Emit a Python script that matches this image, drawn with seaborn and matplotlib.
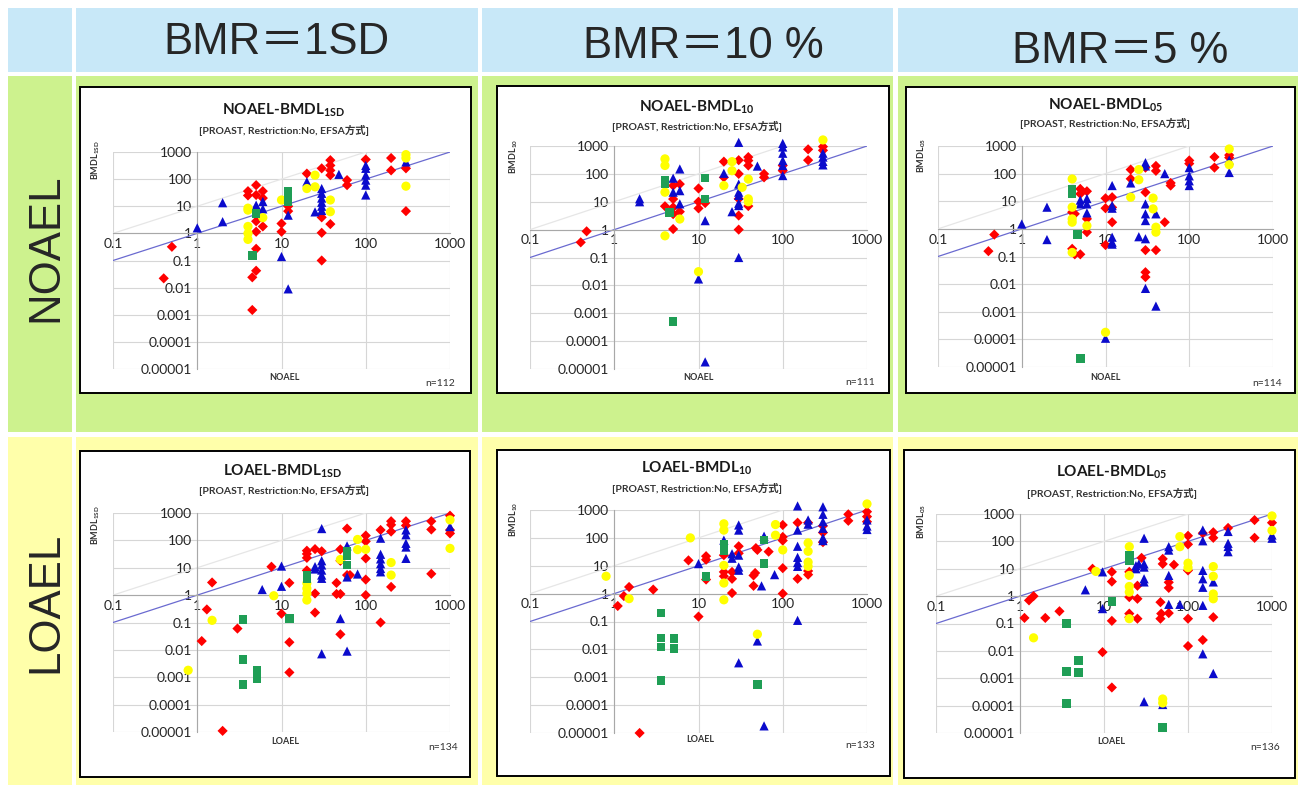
import matplotlib
matplotlib.use("Agg")
import matplotlib.pyplot as plt
from matplotlib.patches import Rectangle
from matplotlib.ticker import NullLocator
import pandas as pd
import seaborn as sns

sns.set_style("white")
plt.rcParams["font.family"] = ["Lato", "Noto Sans CJK JP", "DejaVu Sans"]
plt.rcParams["mathtext.fontset"] = "custom"
plt.rcParams["mathtext.bf"] = "Lato:bold"
plt.rcParams["mathtext.rm"] = "Lato"

# ---- text ----
col_headers = ["BMR＝1SD", "BMR＝10 %", "BMR＝5 %"]
row_headers = ["NOAEL", "LOAEL"]
sub_keys = ["1SD", "10", "05"]
n_labels = [["n=112", "n=111", "n=114"], ["n=134", "n=133", "n=136"]]
subtitle = "[PROAST, Restriction:No, EFSA方式]"
x_ticks = [0.1, 1, 10, 100, 1000]
x_tick_labels = ["0.1", "1", "10", "100", "1000"]
y_ticks = [1e-5, 1e-4, 1e-3, 1e-2, 0.1, 1, 10, 100, 1000]
y_tick_labels = ["0.00001", "0.0001", "0.001", "0.01", "0.1", "1", "10", "100", "1000"]
kinds = ["red", "blue", "yellow", "green"]

# ---- data (x = NOAEL/LOAEL, y = BMDL) ----
noael_1sd_red = [(0.5, 0.32), (0.4, 0.022), (4, 36), (5, 60), (5, 26), (6, 36), (6, 20), (4, 25),
                 (5, 2.8), (5, 1.15), (6, 1.8), (5, 0.27), (5, 0.042), (4.5, 0.024), (4.5, 0.0015),
                 (10, 2.3), (10, 1.15), (12, 10), (12, 6.6), (20, 160), (30, 250), (30, 3.9), (30, 1.05),
                 (30, 0.1), (38, 500), (38, 320), (38, 210), (38, 140), (38, 2.2), (60, 92), (60, 60),
                 (100, 530), (200, 600), (200, 210), (300, 250), (300, 6.6)]
noael_1sd_blue = [(1, 1.6), (2, 2.7), (2, 13.5), (5, 11), (6, 15), (6, 8), (10, 0.14), (12, 4.7),
                  (12, 0.009), (20, 80), (25, 6.2), (30, 45), (30, 30), (30, 20), (30, 14), (30, 10),
                  (30, 7), (48, 150), (100, 320), (100, 250), (100, 140), (100, 92), (100, 60), (100, 26),
                  (300, 430)]
noael_1sd_yellow = [(4, 7.2), (4, 8.5), (6, 3.8), (4, 1.8), (4, 1.0), (4, 0.6), (10, 17), (20, 45),
                    (25, 140), (25, 52), (38, 17), (38, 6.3), (300, 800), (300, 600), (300, 55)]
noael_1sd_green = [(5, 5.5), (4.5, 0.15), (12, 36), (12, 22), (12, 15)]

noael_10_red = [(0.4, 0.35), (0.47, 0.87), (4, 6.9), (5, 1.05), (5, 3.6), (5, 6.3), (5, 12.5), (5, 38),
                (6, 43), (6, 4.4), (10, 30), (10, 10), (10, 5.8), (12, 9), (20, 275), (20, 75), (30, 310),
                (30, 100), (30, 12.7), (30, 3.2), (30, 1.0), (39, 400), (39, 300), (39, 200), (39, 7),
                (60, 100), (60, 75), (100, 200), (100, 130), (200, 760), (200, 310), (300, 950), (300, 700)]
noael_10_blue = [(2, 12.8), (2, 10), (5, 70), (5, 22), (6, 150), (6, 25), (6, 8.4), (10, 0.017), (12, 2.1),
                 (12, 1.8e-5), (20, 105), (25, 4.4), (30, 1350), (30, 43), (30, 22), (30, 17), (30, 8.8),
                 (30, 7.3), (30, 0.1), (50, 190), (100, 1240), (100, 920), (100, 550), (100, 300),
                 (100, 200), (100, 87), (300, 550), (300, 400), (300, 280), (300, 210)]
noael_10_yellow = [(4, 345), (4, 200), (4, 22), (4, 0.6), (6, 2.4), (10, 0.031), (20, 38), (25, 275),
                   (25, 130), (33, 33), (39, 65), (39, 12.7), (39, 10), (300, 1650)]
noael_10_green = [(4, 57), (4, 44), (4.5, 4.2), (5, 0.0005), (12, 70), (12, 12.4)]

noael_05_red = [(0.4, 0.156), (0.47, 0.62), (4, 4), (4.3, 3.5), (4, 0.19), (4.3, 0.12), (5, 0.12), (5, 28),
                (5, 18.5), (6, 23), (6, 2.3), (6, 0.76), (10, 12.8), (10, 5.6), (10, 0.26), (12, 14),
                (12, 6), (12, 1.74), (20, 140), (20, 65), (30, 165), (30, 21), (30, 0.17), (30, 0.027),
                (30, 0.018), (40, 190), (40, 126), (40, 0.17), (51, 1.74), (60, 46), (60, 37), (100, 300),
                (100, 230), (200, 400), (200, 165), (300, 470), (300, 380)]
noael_05_blue = [(1, 1.5), (2, 6.1), (2, 0.41), (5, 11), (5, 8), (6, 12.5), (6, 8), (6, 3.8), (10, 1.1e-4),
                 (12, 37), (12, 7), (12, 5.6), (12, 0.5), (12, 0.33), (12, 0.28), (20, 46), (25, 0.52),
                 (30, 250), (30, 190), (30, 8), (30, 3.5), (30, 2), (30, 0.44), (30, 0.007), (40, 3.5),
                 (40, 0.0016), (51, 100), (100, 165), (100, 83), (100, 55), (100, 37), (300, 310), (300, 110)]
noael_05_yellow = [(4, 64), (4, 6.1), (4, 2.3), (4, 1.74), (4, 0.14), (6, 1.3), (10, 1.8e-4), (20, 14),
                   (25, 140), (25, 60), (37, 13), (37, 5.3), (40, 1.15), (40, 0.76), (300, 780), (300, 210)]
noael_05_green = [(4, 28), (4, 18.5), (4.6, 0.62), (5, 2e-5)]

loael_1sd_red = [(7.6, 10.9), (1.5, 2.9), (1.3, 0.3), (3, 0.06), (1.13, 0.021), (2, 1.1e-5), (10, 0.21),
                 (12.4, 2.8), (12.4, 0.019), (12.4, 0.0015), (20, 42), (20, 32), (20, 23), (20, 8), (25, 48),
                 (25, 1.15), (25, 0.23), (30, 40), (45, 2.8), (45, 1.1), (50, 1.1), (50, 0.037), (50, 47),
                 (50, 18), (60, 270), (60, 5.4), (65, 5.4), (100, 150), (100, 92), (100, 22), (100, 3.7),
                 (100, 1.0), (150, 240), (150, 0.1), (200, 500), (200, 370), (200, 210), (200, 2),
                 (300, 500), (300, 350), (600, 500), (600, 250), (600, 6), (1000, 800), (1000, 240),
                 (1000, 180)]
loael_1sd_blue = [(5.9, 1.6), (10, 11.5), (10, 2.1), (25, 11), (25, 9), (30, 270), (30, 18), (30, 12.6),
                  (30, 8.2), (30, 5.4), (30, 4.1), (30, 0.0072), (50, 0.14), (60, 63), (60, 4.6),
                  (60, 0.009), (80, 5.9), (150, 120), (150, 31), (150, 21), (150, 14), (150, 9.4),
                  (150, 7.1), (300, 240), (300, 160), (300, 78), (300, 57), (300, 22), (1000, 320)]
loael_1sd_yellow = [(8.1, 0.95), (1.5, 0.12), (0.78, 0.0018), (20, 2.7), (20, 1.75), (20, 1.15), (20, 0.66),
                    (50, 20), (80, 108), (80, 46), (100, 47), (200, 15.5), (200, 5.4), (1000, 560), (1000, 51)]
loael_1sd_green = [(3.5, 0.13), (3.5, 0.0045), (5.1, 0.0018), (5.1, 0.0013), (5.1, 0.0009), (3.5, 0.00054),
                   (12.4, 0.14), (20, 5.4), (20, 4.1), (60, 41), (60, 27), (60, 12.6)]

loael_10_red = [(1.1, 0.36), (1.3, 0.82), (1.5, 1.73), (2.9, 1.4), (7.6, 15.6), (2, 1e-5), (10, 0.15),
                (12.3, 22), (12.3, 16.5), (12.3, 3.2), (20, 24), (20, 6), (20, 4.2), (25, 6), (25, 3.4),
                (25, 1.05), (30, 50), (30, 28), (45, 4.5), (45, 1.9), (47, 5.5), (50, 37), (48, 43),
                (68, 32), (100, 290), (100, 108), (100, 80), (100, 8.2), (100, 1.0), (150, 350), (150, 3.4),
                (200, 350), (200, 6.5), (200, 4.8), (300, 270), (300, 155), (300, 70), (600, 700),
                (600, 410), (1000, 870), (1000, 580), (1000, 380)]
loael_10_blue = [(10, 11.9), (20, 83), (25, 27), (25, 18.6), (30, 290), (30, 190), (30, 24), (30, 9),
                 (30, 6.9), (30, 0.0033), (56, 1.9), (50, 0.02), (60, 1.8e-5), (60, 115), (80, 4.8),
                 (150, 1400), (150, 190), (150, 50), (150, 20), (150, 13), (150, 9.5), (150, 0.11),
                 (200, 440), (200, 310), (300, 1300), (300, 700), (300, 380), (300, 220), (300, 100),
                 (300, 80), (1000, 440), (1000, 265), (1000, 200)]
loael_10_yellow = [(0.8, 4.2), (1.5, 0.66), (8, 100), (20, 320), (20, 190), (20, 10.3), (20, 2.4), (20, 0.6),
                   (50, 0.035), (82, 300), (82, 125), (100, 37), (200, 66), (200, 33), (200, 13.5),
                   (200, 9.5), (1000, 1650)]
loael_10_green = [(3.6, 0.2), (3.6, 0.026), (3.6, 0.012), (5.1, 0.024), (5.1, 0.0106), (3.6, 0.00078),
                  (12.3, 4.2), (20, 57), (20, 35), (50, 0.00055), (60, 83), (60, 12)]

loael_05_red = [(1.13, 0.16), (1.28, 0.7), (1.45, 1.0), (2, 0.16), (2.95, 0.28), (7.3, 10), (9.6, 0.009),
                (12.4, 7.7), (12.4, 3.4), (12.4, 0.125), (12.4, 0.00046), (20, 7.7), (20, 0.92), (20, 0.23),
                (20, 0.17), (25, 2.4), (25, 0.8), (25, 0.15), (28, 25), (47, 0.6), (47, 0.15), (48, 0.23),
                (50, 15), (50, 23), (59, 3.2), (59, 2), (59, 0.24), (68, 14), (100, 160), (100, 78),
                (100, 8.7), (100, 0.15), (100, 0.015), (150, 200), (150, 0.025), (200, 215), (200, 135),
                (200, 0.17), (300, 310), (620, 600), (620, 135), (1000, 480)]
loael_05_blue = [(6, 1.7), (9.6, 7.7), (9.6, 0.35), (24, 13), (26, 15), (24, 10), (30, 130), (30, 15),
                 (30, 11.5), (30, 4.3), (30, 3.3), (30, 1.4e-4), (50, 1.1e-4), (59, 48), (59, 64), (59, 5.7),
                 (59, 0.5), (80, 0.5), (150, 260), (150, 105), (150, 8.7), (150, 4.3), (150, 2.1),
                 (150, 0.46), (150, 0.0078), (200, 3.3), (200, 0.0015), (300, 230), (300, 85), (300, 65),
                 (300, 42), (1000, 170), (1000, 130)]
loael_05_yellow = [(1.45, 0.03), (8, 8), (20, 64), (20, 5.7), (20, 2.25), (20, 1.4), (20, 0.15),
                   (50, 1.75e-4), (50, 1.25e-4), (80, 150), (80, 64), (100, 16), (100, 11), (200, 12),
                   (200, 5.3), (200, 1.2), (200, 0.8), (1000, 850), (1000, 250)]
loael_05_green = [(3.55, 0.1), (5, 0.0045), (3.55, 0.0018), (5, 0.0016), (3.55, 0.00012), (12.4, 0.64),
                  (20, 32), (20, 20), (50, 1.6e-5)]

panel_data = [
    [(noael_1sd_red, noael_1sd_blue, noael_1sd_yellow, noael_1sd_green),
     (noael_10_red, noael_10_blue, noael_10_yellow, noael_10_green),
     (noael_05_red, noael_05_blue, noael_05_yellow, noael_05_green)],
    [(loael_1sd_red, loael_1sd_blue, loael_1sd_yellow, loael_1sd_green),
     (loael_10_red, loael_10_blue, loael_10_yellow, loael_10_green),
     (loael_05_red, loael_05_blue, loael_05_yellow, loael_05_green)],
]

# ---- styling ----
palette = {"red": "#ff0000", "blue": "#0b0bcc", "yellow": "#ffff00", "green": "#1f9e55"}
markers = {"red": "D", "blue": "^", "yellow": "o", "green": "s"}
sizes = {"red": 27, "blue": 44, "yellow": 44, "green": 38}
c_head = "#c8e8f8"
c_green = "#cdf28e"
c_yellow = "#ffffaa"

W, H = 1301, 787


def fx(px):
    return px / W


def fy(py):
    return 1 - py / H


fig = plt.figure(figsize=(W / 100, H / 100), dpi=100)
fig.patch.set_facecolor("white")


def cell(x0, y0, x1, y1, color, ec="none", lw=0, z=-5):
    fig.patches.append(Rectangle((fx(x0), fy(y1)), (x1 - x0) / W, (y1 - y0) / H,
                                 transform=fig.transFigure, facecolor=color,
                                 edgecolor=ec, linewidth=lw, zorder=z))


# background table
col_spans = [(76, 478), (482, 893), (898, 1298)]
row_spans = [(76, 432), (437, 785)]
row_colors = [c_green, c_yellow]
cell(8, 8, 72, 72, c_head)
for x0, x1 in col_spans:
    cell(x0, 8, x1, 72, c_head)
for (y0, y1), rc in zip(row_spans, row_colors):
    cell(8, y0, 72, y1, rc)
    for x0, x1 in col_spans:
        cell(x0, y0, x1, y1, rc)

head_font = ["Liberation Sans", "Noto Sans CJK JP"]
head_pos = [(276, 54), (703, 58), (1120, 63)]
for txt, (hx, hy) in zip(col_headers, head_pos):
    fig.text(fx(hx), fy(hy), txt, fontsize=31.5, family=head_font, ha="center", va="baseline")
for txt, ry in zip(row_headers, [248, 602]):
    fig.text(fx(46), fy(ry), txt, fontsize=31.5, family=head_font, rotation=90,
             ha="center", va="center")

# panel geometry (pixels)
boxes = [[(80, 87, 471, 393), (497, 86, 889, 393), (906, 87, 1295, 393)],
         [(80, 451, 470, 777), (497, 450, 890, 776), (904, 450, 1295, 778)]]
areas = [[(113, 152, 450, 369), (530, 146, 867, 369), (938, 146, 1273, 367)],
         [(113, 513, 450, 732), (530, 510, 867, 733), (936, 514, 1272, 733)]]
title_pos = [[(283, 110), (697, 107), (1105, 105)], [(283, 471), (697, 468), (1112, 472)]]
sub_pos = [[(284, 130), (697, 126), (1105, 123)], [(284, 490), (697, 488), (1112, 493)]]
ylab_pos = [[(96, 160), (514, 156), (922, 155)], [(96, 525), (514, 519), (922, 521)]]
xlab_pos = [[(284, 378), (698, 378), (1105, 378)], [(285, 741), (700, 739), (1111, 742)]]
n_pos = [[(440, 384), (860, 383), (1267, 384)], [(443, 748), (860, 746), (1265, 748)]]

for r in range(2):
    for c in range(3):
        bx0, by0, bx1, by1 = boxes[r][c]
        cell(bx0, by0, bx1, by1, "white", ec="black", lw=1.4, z=-1)

        ax0, ay0, ax1, ay1 = areas[r][c]
        ax = fig.add_axes([fx(ax0), fy(ay1), (ax1 - ax0) / W, (ay1 - ay0) / H])
        ax.set_facecolor("none")
        ax.set_xscale("log")
        ax.set_yscale("log")

        rows = []
        for kind, pts in zip(kinds, panel_data[r][c]):
            rows += [(x, y, kind) for x, y in pts]
        df = pd.DataFrame(rows, columns=["x", "y", "kind"])

        ax.plot([0.1, 100], [1, 1000], color="#e6e6e6", lw=0.9, zorder=1)
        ax.plot([0.1, 1000], [0.1, 1000], color="#6a6ad0", lw=0.9, zorder=2)
        sns.scatterplot(data=df, x="x", y="y", hue="kind", style="kind", size="kind",
                        palette=palette, markers=markers, sizes=sizes,
                        linewidth=0, legend=False, ax=ax, zorder=3, clip_on=False)

        ax.set_xlim(0.1, 1000)
        ax.set_ylim(1e-5, 1000)
        ax.xaxis.set_minor_locator(NullLocator())
        ax.yaxis.set_minor_locator(NullLocator())
        ax.set_xticks(x_ticks)
        ax.set_xticklabels(x_tick_labels, fontfamily="Liberation Serif", fontsize=7, color="#5a5a5a")
        ax.set_yticks(y_ticks)
        ax.set_yticklabels(y_tick_labels, fontfamily="Liberation Serif", fontsize=7, color="#5a5a5a")
        ax.grid(True, color="#d6d6d6", lw=0.8, zorder=0)
        ax.set_axisbelow(True)
        for s in ["top", "right"]:
            ax.spines[s].set_visible(False)
        ax.spines["left"].set_position(("data", 1))
        ax.spines["bottom"].set_position(("data", 1))
        for s in ["left", "bottom"]:
            ax.spines[s].set_color("#a8a8a8")
            ax.spines[s].set_linewidth(0.8)
        ax.tick_params(direction="inout", length=4, width=0.6, color="#a8a8a8", pad=1.5)
        ax.set_xlabel("")
        ax.set_ylabel("")

        key = sub_keys[c]
        tx, ty = title_pos[r][c]
        fig.text(fx(tx), fy(ty), row_headers[r] + "-BMDL$_{\\mathbf{" + key + "}}$",
                 fontsize=11, fontweight="bold", ha="center", va="center", color="#1a1a1a")
        sx, sy = sub_pos[r][c]
        fig.text(fx(sx), fy(sy), subtitle, fontsize=7.5, fontweight="bold",
                 family=["Lato", "Noto Sans CJK JP"], ha="center", va="center", color="#333333")
        lx, ly = ylab_pos[r][c]
        fig.text(fx(lx), fy(ly), "BMDL$_{\\mathbf{" + key + "}}$", fontsize=6.5, fontweight="bold",
                 rotation=90, ha="center", va="center", color="#333333")
        xx, xy = xlab_pos[r][c]
        fig.text(fx(xx), fy(xy), row_headers[r], fontsize=6.5, fontweight="bold",
                 ha="center", va="center", color="#333333")
        nx, ny = n_pos[r][c]
        fig.text(fx(nx), fy(ny), n_labels[r][c], fontsize=7.5, ha="center", va="center",
                 color="#333333")

fig.savefig("out.png", dpi=100)
